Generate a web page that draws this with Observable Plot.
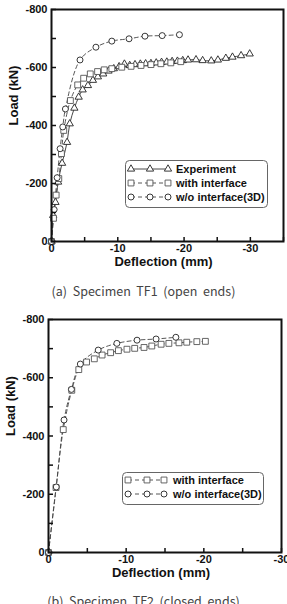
<!DOCTYPE html>
<html>
<head>
<meta charset="utf-8">
<script src="https://cdn.jsdelivr.net/npm/d3@7"></script>
<script src="https://cdn.jsdelivr.net/npm/@observablehq/plot@0.6"></script>
<style>
  body { margin: 0; background: #fff; width: 287px; overflow: hidden; }
  .panel { position: relative; width: 287px; }
  .cap {
    font-family: "Noto Sans CJK KR", "Noto Sans", sans-serif;
    font-size: 12.5px; color: #444; text-align: center; white-space: pre;
  }
  .legend { position: absolute; }
</style>
</head>
<body>
<div id="p1" class="panel"></div>
<div class="cap" style="height:30px;line-height:30px">(a)  Specimen  TF1  (open  ends)</div>
<div id="p2" class="panel"></div>
<div class="cap" style="height:28px;line-height:28px">(b)  Specimen  TF2  (closed  ends)</div>
<script>
// Load axis (kN) ticks, shared by both specimens
const loadSteps = [0, -100, -200, -300, -400, -500, -600, -700, -800];
const loadLabels = [0, -200, -400, -600, -800];

// Deflection axis (mm) ticks
const tf1DeflSteps = [0, -5, -10, -15, -20, -25, -30, -35];
const tf1DeflLabels = [0, -10, -20, -30];
const tf2DeflSteps = [0, -5, -10, -15, -20, -25, -30];
const tf2DeflLabels = [0, -10, -20, -30];

// Specimen TF1 (open ends)
const tf1ExpDefl = [0, -0.25, -0.6, -1.0, -1.6, -2.35, -2.75, -3.45, -4.1, -4.7, -5.5, -6.25, -7.0, -7.8, -8.6, -9.4, -10.2, -11.0, -11.8, -12.6, -13.4, -14.2, -15.0, -15.8, -16.6, -17.4, -18.2, -19.0, -19.8, -20.6, -21.8, -22.8, -24.1, -25.1, -26.3, -27.3, -28.6, -29.9];
const tf1ExpLoad = [0, -90, -135, -205, -270, -342, -406, -460, -498, -523, -538, -556, -568, -578, -588, -596, -603, -612, -607, -610, -612, -613, -614, -616, -618, -619, -621, -622, -624, -626, -627, -624, -623, -626, -632, -636, -641, -647];
const tf1WithDefl = [0, -0.3, -0.7, -1.1, -1.5, -1.85, -2.85, -3.95, -4.85, -5.85, -6.95, -7.95, -9.1, -10.6, -12.0, -13.5, -15.0, -16.5, -18.0, -19.5];
const tf1WithLoad = [0, -80, -160, -217, -303, -383, -486, -540, -563, -578, -586, -592, -596, -601, -604, -607, -610, -613, -616, -620];
const tf1NoDefl = [0, -0.4, -0.85, -1.3, -1.7, -2.1, -4.3, -6.7, -9.1, -11.7, -14.1, -16.7, -19.3];
const tf1NoLoad = [0, -110, -220, -320, -395, -457, -626, -670, -691, -699, -708, -710, -713];

// Specimen TF2 (closed ends)
const tf2WithDefl = [0, -0.97, -1.9, -3.0, -3.9, -4.9, -5.9, -6.9, -8.0, -9.0, -10.1, -11.1, -12.3, -13.3, -14.5, -15.5, -16.8, -17.8, -19.1, -20.2];
const tf2WithLoad = [0, -223, -422, -557, -628, -654, -665, -678, -686, -693, -698, -701, -704, -709, -715, -718, -720, -722, -724, -725];
const tf2NoDefl = [0, -1.0, -2.0, -2.95, -4.1, -6.4, -8.8, -11.4, -13.85, -16.4];
const tf2NoLoad = [0, -225, -455, -560, -647, -695, -718, -729, -733, -739];

const rows = (defl, load) => defl.map((x, i) => ({x, y: load[i]}));

const styles = {
  experiment: {name: "Experiment", symbol: "triangle", r: 2.7, stroke: "#222", line: "#333", dash: null},
  withIf: {name: "with interface", symbol: "square", r: 3.3, stroke: "#555", line: "#444", dash: "4,3"},
  noIf: {name: "w/o interface(3D)", symbol: "circle", r: 3, stroke: "#222", line: "#444", dash: "4,3"}
};

const FONT = "'Liberation Sans', Arial, sans-serif";

function panel(el, cfg) {
  const marks = [];
  for (const s of cfg.series) {
    const opts = {x: "x", y: "y", curve: "catmull-rom", stroke: s.style.line, strokeWidth: 0.9};
    if (s.style.dash) opts.strokeDasharray = s.style.dash;
    marks.push(Plot.line(s.data, opts));
  }
  for (const s of cfg.series) {
    marks.push(Plot.dot(s.data, {x: "x", y: "y", symbol: s.style.symbol, r: s.style.r,
      stroke: s.style.stroke, fill: "white", strokeWidth: 0.9}));
  }
  marks.push(
    Plot.axisY({ticks: loadSteps, tickSize: -5, tickFormat: () => "", strokeWidth: 1.5, stroke: "#111", label: null}),
    Plot.axisY({ticks: loadLabels, tickSize: 0, tickPadding: 4, tickFormat: d => String(d), label: null,
      fontWeight: "bold", fill: "#111"}),
    Plot.axisX({ticks: cfg.xSteps, tickSize: -4, tickFormat: () => "", strokeWidth: 1.5, stroke: "#111", label: null}),
    Plot.axisX({ticks: cfg.xLabels, tickSize: 0, tickPadding: 3, tickFormat: d => String(d), label: null,
      fontWeight: "bold", fill: "#111"}),
    Plot.text(["Load (kN)"], {text: d => d, frameAnchor: "left", dx: -38, rotate: -90,
      fontSize: 13, fontWeight: "bold", fill: "#111"}),
    Plot.text(["Deflection (mm)"], {text: d => d, frameAnchor: "bottom", dy: 24, dx: cfg.titleDx,
      fontSize: 13, fontWeight: "bold", fill: "#111"}),
    Plot.frame({stroke: "#111", strokeWidth: 2})
  );
  const chart = Plot.plot({
    width: 287,
    height: cfg.height,
    marginLeft: cfg.marginLeft,
    marginRight: cfg.marginRight,
    marginTop: cfg.marginTop,
    marginBottom: cfg.marginBottom,
    style: {fontFamily: FONT, fontSize: "11px", fontWeight: "bold", background: "white", color: "#111"},
    x: {domain: cfg.xDomain, label: null},
    y: {domain: [0, -800], label: null},
    marks
  });
  el.appendChild(chart);

  // legend box
  const lg = cfg.legend;
  const svg = d3.select(el).append("svg").attr("class", "legend")
    .style("left", lg.left + "px").style("top", lg.top + "px")
    .attr("width", lg.width + 2).attr("height", lg.height + 2);
  svg.append("rect").attr("x", 0.5).attr("y", 0.5).attr("width", lg.width).attr("height", lg.height)
    .attr("rx", 4).attr("fill", "white").attr("stroke", "#666").attr("stroke-width", 1);
  cfg.series.forEach((s, i) => {
    const cy = lg.firstRow + i * lg.rowGap;
    const g = svg.append("g");
    const ln = g.append("line").attr("x1", lg.marks[0]).attr("x2", lg.marks[2]).attr("y1", cy).attr("y2", cy)
      .attr("stroke", s.style.line).attr("stroke-width", 0.9);
    if (s.style.dash) ln.attr("stroke-dasharray", s.style.dash);
    const sym = {triangle: d3.symbolTriangle, square: d3.symbolSquare, circle: d3.symbolCircle}[s.style.symbol];
    const path = d3.symbol(sym, Math.PI * s.style.r * s.style.r)();
    lg.marks.forEach(mx => {
      g.append("path").attr("d", path).attr("transform", `translate(${mx},${cy})`)
        .attr("fill", "white").attr("stroke", s.style.stroke).attr("stroke-width", 0.9);
    });
    g.append("text").attr("x", lg.textX).attr("y", cy).attr("dy", "0.35em")
      .attr("font-family", FONT).attr("font-size", 11).attr("font-weight", "bold").attr("fill", "#111")
      .text(s.style.name);
  });
}

panel(document.getElementById("p1"), {
  height: 276, marginLeft: 51, marginRight: 4, marginTop: 9, marginBottom: 35,
  xDomain: [0, -35], xSteps: tf1DeflSteps, xLabels: tf1DeflLabels, titleDx: -4,
  series: [
    {style: styles.experiment, data: rows(tf1ExpDefl, tf1ExpLoad)},
    {style: styles.withIf, data: rows(tf1WithDefl, tf1WithLoad)},
    {style: styles.noIf, data: rows(tf1NoDefl, tf1NoLoad)}
  ],
  legend: {left: 125, top: 160, width: 142, height: 47, firstRow: 9, rowGap: 14, marks: [6, 25, 43], textX: 51}
});

panel(document.getElementById("p2"), {
  height: 281, marginLeft: 48, marginRight: 6, marginTop: 13, marginBottom: 35,
  xDomain: [0, -30], xSteps: tf2DeflSteps, xLabels: tf2DeflLabels, titleDx: -4,
  series: [
    {style: styles.withIf, data: rows(tf2WithDefl, tf2WithLoad)},
    {style: styles.noIf, data: rows(tf2NoDefl, tf2NoLoad)}
  ],
  legend: {left: 122, top: 166, width: 141, height: 32, firstRow: 8, rowGap: 14, marks: [6, 25, 42], textX: 51}
});
</script>
</body>
</html>
